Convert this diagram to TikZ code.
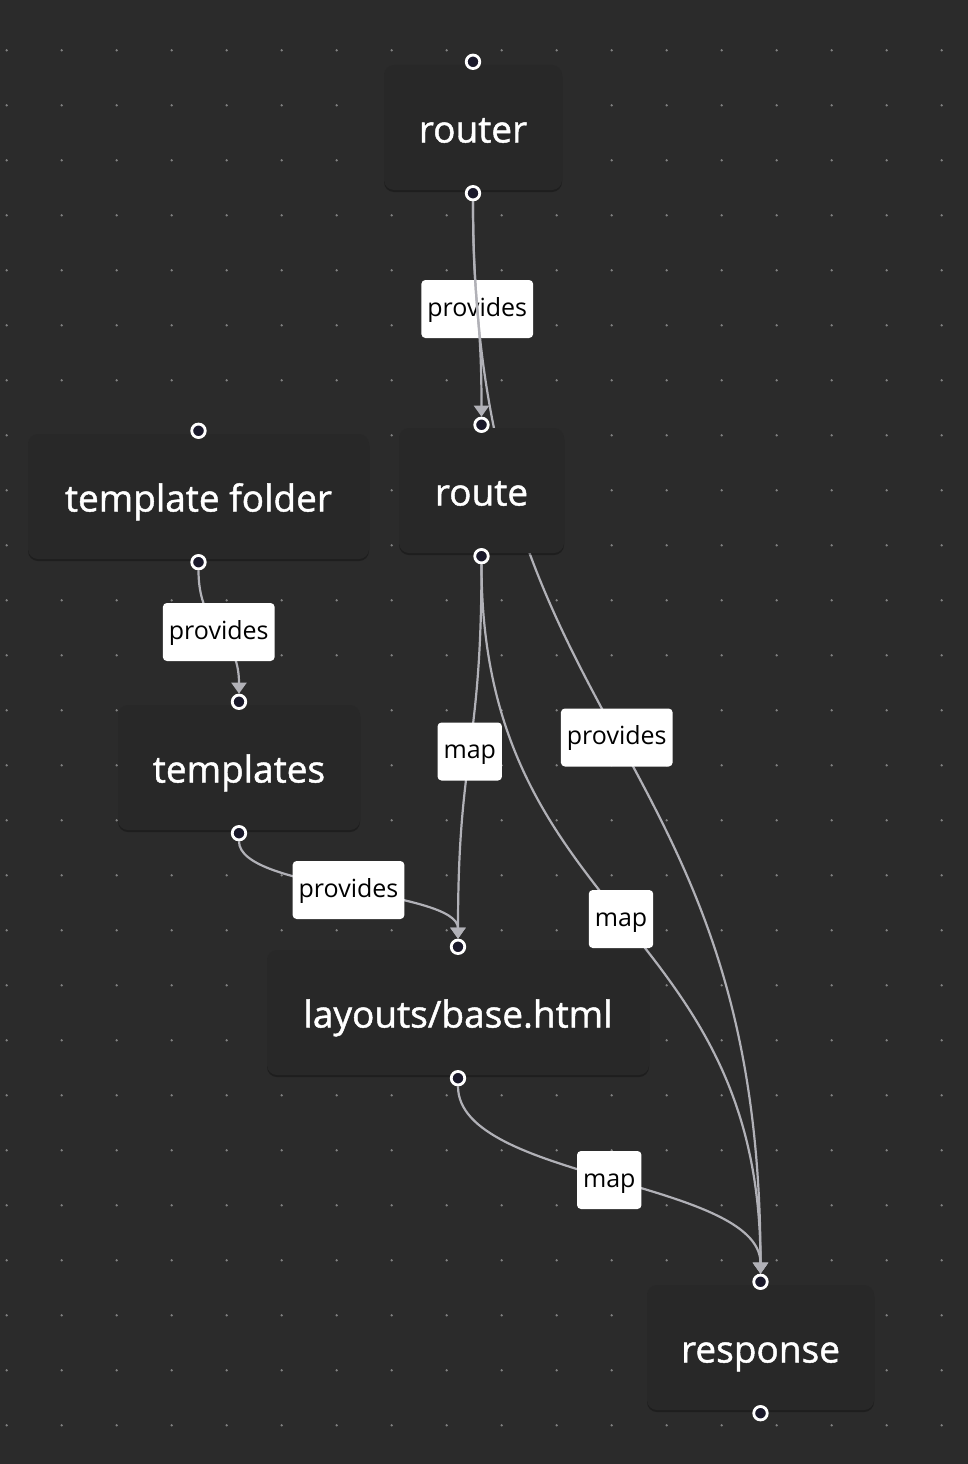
\documentclass[tikz,border=0pt]{standalone}
\usepackage{fontspec}
\setmainfont{Open Sans}
\newfontfamily\boxfont[FakeBold=1.2]{Open Sans}
\usetikzlibrary{calc,arrows.meta,shadows}

\definecolor{canvas}{HTML}{2B2B2B}
\definecolor{boxfill}{HTML}{282828}
\definecolor{griddot}{HTML}{808080}
\definecolor{wire}{HTML}{B1B1B7}
\definecolor{plug}{HTML}{1A192B}

\pgfdeclarelayer{grid}
\pgfdeclarelayer{wires}
\pgfsetlayers{grid,wires,main}

\tikzset{
  block/.style={rectangle,rounded corners=10pt,fill=boxfill,text=white,minimum height=125pt,inner sep=0pt,
    text height=40pt,text depth=10pt,font=\boxfont\fontsize{37}{44}\selectfont,
    drop shadow={shadow xshift=0pt,shadow yshift=-2pt,opacity=0.3,fill=black}},
  handle/.style={circle,draw=white,line width=2.8pt,fill=plug,minimum size=13.5pt,inner sep=0pt},
  flow/.style={draw=wire,line width=2.2pt,-{Triangle[width=15pt,length=11pt]}},
  tag/.style={rectangle,rounded corners=4pt,fill=white,text=black,minimum height=58pt,inner xsep=6pt,inner ysep=0pt,
    text height=20pt,text depth=6pt,font=\fontsize{25}{30}\selectfont}
}

% bezier from the lower handle of #1 to the upper handle of #2
\newcommand\flowwire[2]{%
  \coordinate (mid) at ($(#1-out.south)!0.5!(#2-in.north)$);
  \draw[flow] (#1-out.south) .. controls (#1-out.south |- mid) and (#2-in.north |- mid) .. (#2-in.north);}
\newcommand\flowtag[3]{\node[tag] (#1-#2) at ($(#1-out.south)!0.5!(#2-in.north)$) {#3};}

\begin{document}
\begin{tikzpicture}[x=1pt,y=-1pt]

\begin{pgfonlayer}{grid}
\fill[canvas] (0,0) rectangle (968,1464);
\foreach \i in {0,...,17}
  \foreach \j in {1,...,26}
    \fill[griddot] ({6.7+55*\i},{-4.7+55*\j}) circle (1.3pt);
\end{pgfonlayer}
\useasboundingbox (0,0) rectangle (968,1464);

% boxes
\node[block,minimum width=178pt] (router) at (473,127.5) {router};
\node[block,minimum width=165pt] (route) at (481.5,490.5) {route};
\node[block,minimum width=341pt] (folder) at (198.5,496.5) {template folder};
\node[block,minimum width=242pt] (templates) at (239,767.5) {templates};
\node[block,minimum width=382pt] (layout) at (458,1012.5) {layouts/base.html};
\node[block,minimum width=227pt] (response) at (760.5,1347.5) {response};

% handles
\foreach \n in {router,route,folder,templates,layout,response}{
  \node[handle] (\n-in) at ([yshift=3pt]\n.north) {};
  \node[handle] (\n-out) at ([yshift=-3pt]\n.south) {};
}

% edges
\begin{pgfonlayer}{wires}
\flowtag{router}{route}{provides}
\flowwire{router}{route}
\flowwire{router}{response}
\flowtag{router}{response}{provides}

\flowwire{folder}{templates}
\flowtag{folder}{templates}{provides}

\flowwire{templates}{layout}
\flowtag{templates}{layout}{provides}

\flowwire{route}{layout}
\flowtag{route}{layout}{map}

\flowwire{route}{response}
\flowtag{route}{response}{map}

\flowwire{layout}{response}
\flowtag{layout}{response}{map}
\end{pgfonlayer}

\end{tikzpicture}
\end{document}
